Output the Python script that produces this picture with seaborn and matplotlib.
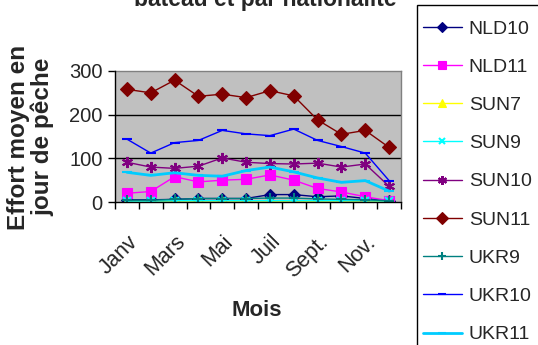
import matplotlib
matplotlib.use("Agg")
import matplotlib.pyplot as plt
import matplotlib.transforms as mtransforms
from matplotlib.patches import Rectangle
import seaborn as sns
import pandas as pd
import numpy as np

months = ["Janv", "Févr", "Mars", "Avr", "Mai", "Juin", "Juil", "Août", "Sept.", "Oct.", "Nov.", "Déc."]
tick_labels = ["Janv", "", "Mars", "", "Mai", "", "Juil", "", "Sept.", "", "Nov.", ""]

NLD10 = [5, 5, 6, 8, 8, 8, 17, 17, 12, 14, 8, 2]
NLD11 = [20, 24, 58, 46, 50, 52, 62, 50, 31, 23, 12, 3]
SUN7 = [2, 2, 2, 2, 2, 2, 2, 0, 2, 2, 2, 1]
SUN9 = [2, 2, 3, 3, 3, 3, 3, 3, 3, 3, 3, 2]
SUN10 = [91, 80, 77, 82, 101, 91, 88, 87, 89, 80, 87, 36]
SUN11 = [258, 250, 279, 242, 247, 239, 255, 243, 188, 155, 164, 125]
UKR9 = [4, 4, 6, 8, 8, 8, 9, 9, 7, 6, 5, 3]
UKR10 = [144, 112, 136, 141, 164, 156, 152, 167, 141, 127, 112, 49]
UKR11 = [68, 61, 67, 61, 59, 72, 80, 69, 55, 45, 49, 25]

series = {
    "NLD10": NLD10, "NLD11": NLD11, "SUN7": SUN7, "SUN9": SUN9, "SUN10": SUN10,
    "SUN11": SUN11, "UKR9": UKR9, "UKR10": UKR10, "UKR11": UKR11,
}
styles = {
    "NLD10": dict(color="#000080", marker="D", ms=6, lw=1.0),
    "NLD11": dict(color="#FF00FF", marker="s", ms=7, lw=1.0),
    "SUN7": dict(color="#FFFF00", marker="^", ms=7, lw=1.0),
    "SUN9": dict(color="#00FFFF", marker="x", ms=6, lw=1.0),
    "SUN10": dict(color="#800080", marker=(6, 2, 0), ms=8, lw=1.0),
    "SUN11": dict(color="#800000", marker="D", ms=7.5, lw=1.0),
    "UKR9": dict(color="#008080", marker="+", ms=7, lw=1.0),
    "UKR10": dict(color="#0000FF", marker="_", ms=7, lw=1.0),
    "UKR11": dict(color="#00CCFF", marker="_", ms=7, lw=2.0),
}

rows = []
for name, vals in series.items():
    for i, v in enumerate(vals):
        rows.append({"serie": name, "x": i, "mois": months[i], "val": v})
df = pd.DataFrame(rows)

sns.set_style("white")
plt.rcParams["font.family"] = ["Liberation Sans", "DejaVu Sans"]

fig = plt.figure(figsize=(5.38, 3.45), dpi=100)
ax = fig.add_axes([115 / 538, 1 - 202 / 345, (401 - 115) / 538, (202 - 71) / 345])
ax.set_facecolor("#C0C0C0")

handles = []
for name in series:
    st = styles[name]
    sub = df[df["serie"] == name]
    sns.lineplot(data=sub, x="x", y="val", ax=ax, color=st["color"], lw=st["lw"],
                 marker=st["marker"], markersize=st["ms"], markeredgecolor=st["color"],
                 markerfacecolor=st["color"],
                 markeredgewidth=1.5 if st["marker"] in ["_", "+", "x", (6, 2, 0)] else 0.8,
                 label=name, legend=False, zorder=3)
    handles.append(ax.lines[-1])

ax.set_xlim(-0.5, 11.5)
ax.set_ylim(0, 300)
ax.set_yticks([0, 100, 200, 300])
ax.set_yticklabels(["0", "100", "200", "300"], fontsize=14.5)
for yv in [100, 200]:
    ax.axhline(yv, color="black", lw=1.0, zorder=1)

ax.set_xticks(np.arange(-0.5, 12, 1))
ax.set_xticklabels([])
ax.set_xticks(np.arange(0, 12), minor=True)
ax.set_xticklabels(tick_labels, minor=True, rotation=45, ha="right", va="top",
                   rotation_mode="anchor", fontsize=15.5)
shift = mtransforms.ScaledTranslation(-11 / 100, 0, fig.dpi_scale_trans)
for lab in ax.get_xticklabels(minor=True):
    lab.set_transform(lab.get_transform() + shift)
ax.tick_params(axis="x", which="major", direction="out", length=5, width=1, color="black", bottom=True)
ax.tick_params(axis="x", which="minor", length=0, pad=21)
ax.tick_params(axis="y", which="major", direction="out", length=5, width=1, color="black", left=True, pad=4)

for side in ["top", "right"]:
    ax.spines[side].set_color("#808080")
    ax.spines[side].set_linewidth(1.0)
for side in ["left", "bottom"]:
    ax.spines[side].set_color("black")
    ax.spines[side].set_linewidth(1.0)
    ax.spines[side].set_zorder(4)

ax.set_xlabel("")
ax.set_ylabel("")
fig.text(257 / 538, 1 - 310 / 345, "Mois", fontsize=16, fontweight="bold", ha="center", va="center")
fig.text(31 / 538, 1 - 137 / 345, "Effort moyen en\njour de pêche", fontsize=17.5, fontweight="bold",
         ha="center", va="center", rotation=90, multialignment="center", linespacing=1.05)
fig.text(265 / 538, 1 - 6 / 345, "Effort moyen par\nbateau et par nationalité", fontsize=16.5,
         fontweight="bold", ha="center", va="baseline", multialignment="center")

# legend frame (extends past the figure edges like the reference)
fig.patches.append(Rectangle((417 / 538, -0.1), 0.5, 1 - 5 / 345 + 0.1, transform=fig.transFigure,
                             facecolor="white", edgecolor="black", lw=1.0, zorder=0))
leg = fig.legend(handles=handles, labels=list(series.keys()), loc="upper left",
                 bbox_to_anchor=(423 / 538, 1 - 20 / 345), fontsize=14, frameon=False,
                 borderaxespad=0, borderpad=0, markerscale=0.8,
                 labelspacing=1.06, handlelength=2.0, handletextpad=0.35)

fig.savefig("out.png", dpi=100)
